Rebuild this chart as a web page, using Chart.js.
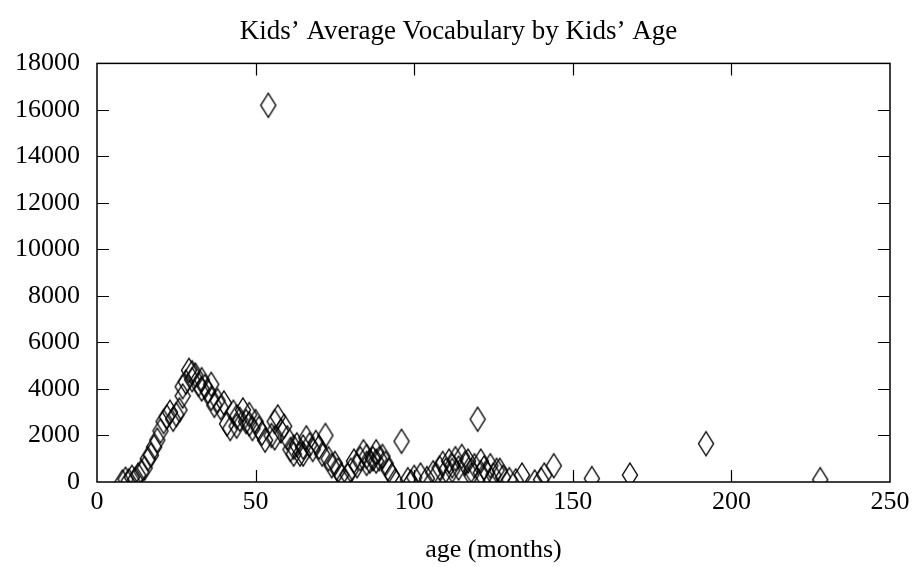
<!DOCTYPE html>
<html>
<head>
<meta charset="utf-8">
<script src="https://cdn.jsdelivr.net/npm/chart.js@4/dist/chart.umd.min.js"></script>
<style>
  html, body { margin: 0; padding: 0; background: #fff; }
  #wrap { width: 917px; height: 567px; }
</style>
</head>
<body>
<div id="wrap"><canvas id="c" width="917" height="567"></canvas></div>
<script>
// ---- data ----
const chartTitle = "Kids\u2019 Average Vocabulary by Kids\u2019 Age";
const xAxisTitle = "age (months)";
const ageMonths = [
  8, 9, 10, 11, 12, 13, 14, 15, 16, 17, 18, 19, 20, 21, 22, 23, 24, 25, 26, 27,
  28, 29, 30, 31, 32, 33, 34, 35, 36, 37, 38, 39, 40, 41, 42, 43, 44, 45, 46, 47,
  48, 49, 50, 51, 52, 53, 54, 55, 56, 57, 58, 59, 60, 61, 62, 63, 64, 65, 66, 67,
  68, 69, 70, 71, 72, 73, 74, 75, 76, 77, 78, 79, 80, 81, 82, 83, 84, 85, 86, 87,
  88, 89, 90, 91, 92, 93, 94, 96, 98, 99, 100, 102, 104, 106, 107, 108, 109, 110, 111, 112,
  113, 114, 115, 116, 117, 118, 119, 120, 121, 122, 123, 124, 125, 126, 128, 130, 132, 134, 138, 140,
  141, 144, 156, 168, 192, 228,
  27, 30, 33, 36, 44, 48, 56, 62, 65, 85, 88, 112, 118, 121, 127
];
const avgVocabulary = [
  0, 120, 50, 200, 100, 300, 450, 600, 1000, 1150, 1500, 1800, 2200, 2600, 2800, 3000, 2700, 2900, 3100, 3700,
  4300, 4800, 4400, 4600, 4200, 4400, 4100, 3900, 4200, 3300, 3500, 3200, 3400, 2500, 2300, 3000, 2800, 2700, 3100, 2600,
  2900, 2300, 2600, 2300, 2100, 1800, 16200, 2000, 2600, 2800, 2200, 2400, 1900, 1400, 1200, 1600, 1200, 1500, 1900, 1600,
  1400, 1700, 1500, 1200, 2000, 1000, 700, 800, 500, 300, 100, 300, 500, 900, 700, 1000, 1300, 1100, 900, 1000,
  1300, 1000, 1100, 800, 500, 300, 50, 1750, 100, 0, 200, 300, 150, 400, 300, 600, 800, 500, 900, 700,
  1000, 600, 1100, 800, 900, 500, 700, 2700, 900, 600, 400, 700, 300, 500, 200, 100, 50, 300, 0, 100,
  300, 700, 150, 300, 1650, 100,
  4100, 4700, 4000, 3600, 2400, 2500, 1900, 1500, 1200, 800, 900, 500, 300, 400, 500
];
const xTickStep = 50;
const yTickStep = 2000;
const xMin = 0, xMax = 250, yMin = 0, yMax = 18000;

// ---- diamond marker (tall, unfilled) ----
function makeDiamond() {
  const cv = document.createElement('canvas');
  cv.width = 18; cv.height = 28;
  const g = cv.getContext('2d');
  g.strokeStyle = '#000';
  g.lineWidth = 1.4;
  g.beginPath();
  g.moveTo(9, 2); g.lineTo(16.5, 14); g.lineTo(9, 26); g.lineTo(1.5, 14);
  g.closePath();
  g.stroke();
  return cv;
}
const diamond = makeDiamond();

const FONT = "'Liberation Serif', 'Times New Roman', serif";

// frame + inward ticks on all four sides (gnuplot style)
const framePlugin = {
  id: 'frame',
  afterDraw(chart) {
    const { ctx, chartArea: a, scales } = chart;
    const L = 12;
    ctx.save();
    ctx.strokeStyle = '#000';
    ctx.lineWidth = 1.5;
    ctx.strokeRect(a.left, a.top, a.right - a.left, a.bottom - a.top);
    ctx.lineWidth = 1.2;
    ctx.beginPath();
    scales.x.ticks.forEach(t => {
      if (t.value <= xMin || t.value >= xMax) return;
      const px = Math.round(scales.x.getPixelForValue(t.value)) + 0.5;
      ctx.moveTo(px, a.bottom); ctx.lineTo(px, a.bottom - L);
      ctx.moveTo(px, a.top); ctx.lineTo(px, a.top + L);
    });
    scales.y.ticks.forEach(t => {
      if (t.value <= yMin || t.value >= yMax) return;
      const py = Math.round(scales.y.getPixelForValue(t.value)) + 0.5;
      ctx.moveTo(a.left, py); ctx.lineTo(a.left + L, py);
      ctx.moveTo(a.right, py); ctx.lineTo(a.right - L, py);
    });
    ctx.stroke();
    ctx.restore();
  }
};

new Chart(document.getElementById('c'), {
  type: 'scatter',
  data: {
    datasets: [{
      data: ageMonths.map((a, i) => ({ x: a, y: avgVocabulary[i] })),
      pointStyle: diamond,
      pointRadius: 12,
      showLine: false
    }]
  },
  options: {
    responsive: false,
    animation: false,
    events: [],
    layout: { padding: 0 },
    plugins: {
      legend: { display: false },
      tooltip: { enabled: false },
      title: {
        display: true,
        text: chartTitle,
        color: '#000',
        font: { family: FONT, size: 27, weight: 'normal', lineHeight: 1.2 },
        padding: { top: 16, bottom: 15 }
      }
    },
    scales: {
      x: {
        type: 'linear',
        min: xMin, max: xMax,
        grid: { display: false },
        border: { display: false },
        ticks: { stepSize: xTickStep, color: '#000', padding: -3,
                 font: { family: FONT, size: 26 }, maxRotation: 0,
                 callback: v => String(v) },
        title: { display: true, text: xAxisTitle, color: '#000',
                 font: { family: FONT, size: 26 }, padding: { top: 0, bottom: 1 } },
        afterFit(s) { s.height = 85; }
      },
      y: {
        type: 'linear',
        min: yMin, max: yMax,
        grid: { display: false },
        border: { display: false },
        ticks: { stepSize: yTickStep, color: '#000', padding: 9,
                 font: { family: FONT, size: 26 },
                 callback: v => String(v) },
        afterFit(s) { s.width = 97; }
      },
      yRight: {
        type: 'linear',
        position: 'right',
        min: yMin, max: yMax,
        grid: { display: false },
        border: { display: false },
        ticks: { display: false },
        afterFit(s) { s.width = 27; }
      }
    }
  },
  plugins: [framePlugin]
});
</script>
</body>
</html>
